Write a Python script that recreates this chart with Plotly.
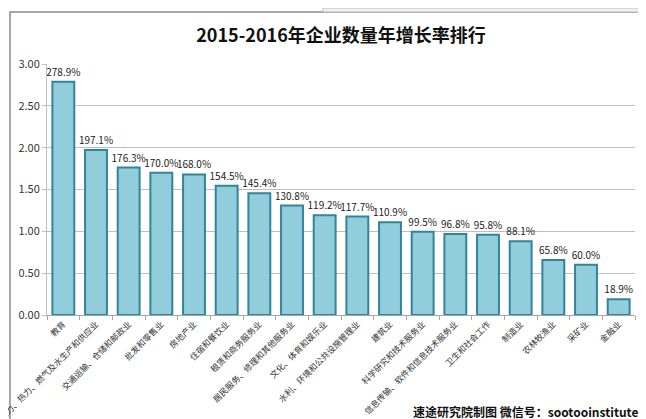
import plotly.graph_objects as go

categories = [
    "教育",
    "电力、热力、燃气及水生产和供应业",
    "交通运输、仓储和邮政业",
    "批发和零售业",
    "房地产业",
    "住宿和餐饮业",
    "租赁和商务服务业",
    "居民服务、修理和其他服务业",
    "文化、体育和娱乐业",
    "水利、环境和公共设施管理业",
    "建筑业",
    "科学研究和技术服务业",
    "信息传输、软件和信息技术服务业",
    "卫生和社会工作",
    "制造业",
    "农林牧渔业",
    "采矿业",
    "金融业",
]
values = [2.789, 1.971, 1.763, 1.700, 1.680, 1.545, 1.454, 1.308, 1.192,
          1.177, 1.109, 0.995, 0.968, 0.958, 0.881, 0.658, 0.600, 0.189]
labels = [f"{v*100:.1f}%" for v in values]
ytick_vals = [0, 0.5, 1.0, 1.5, 2.0, 2.5, 3.0]
ytick_text = [f"{v:.2f}" for v in ytick_vals]

W, H = 646, 419
ML, MR, MT, MB = 39, 19, 56, 112
PW, PH = W - ML - MR, H - MT - MB

def px_x(p):
    return (p - ML) / PW

def px_y(p):
    return (H - MB - p) / PH

font = "Noto Sans CJK SC"

fig = go.Figure(go.Bar(
    x=categories, y=values, text=labels, textposition="outside",
    cliponaxis=False, constraintext="none",
    textfont=dict(family=font, size=10, color="#222222"),
    marker=dict(color="#92CDDC", line=dict(color="#31849B", width=2)),
))

fig.update_layout(
    width=W, height=H,
    margin=dict(l=ML, r=MR, t=MT, b=MB, autoexpand=False),
    paper_bgcolor="white", plot_bgcolor="white",
    bargap=0.33,
    showlegend=False,
    font=dict(family=font, color="#222222"),
    title=dict(text="<b>2015-2016年企业数量年增长率排行</b>", x=0.5, xref="paper",
               y=1 - 28 / H, yanchor="middle", xanchor="center",
               font=dict(family=font, size=18, color="#111111")),
    xaxis=dict(tickangle=-45, tickfont=dict(family=font, size=8.5, color="#333333"),
               showline=True, linecolor="#a6a6a6", ticks="outside", ticklen=4,
               tickcolor="#a6a6a6", tickson="boundaries", automargin=False),
    yaxis=dict(range=[0, 3.0], tickvals=ytick_vals, ticktext=ytick_text,
               tickfont=dict(family=font, size=11, color="#333333"),
               showgrid=True, gridcolor="#bfbfbf", gridwidth=1,
               showline=True, linecolor="#bfbfbf", ticks="outside", ticklen=4,
               tickcolor="#bfbfbf", zeroline=False, automargin=False),
    shapes=[
        dict(type="rect", xref="paper", yref="paper",
             x0=px_x(2), x1=px_x(641), y0=px_y(416), y1=px_y(4),
             line=dict(color="#8c8c8c", width=1.5), layer="below"),
        dict(type="rect", xref="paper", yref="paper",
             x0=px_x(315), x1=px_x(646), y0=px_y(4), y1=px_y(0),
             line=dict(color="#bbbbbb", width=1), fillcolor="#f0f0f0", layer="below"),
    ],
    annotations=[
        dict(text="<b>速途研究院制图 微信号：sootooinstitute</b>", xref="paper", yref="paper",
             x=px_x(632), y=px_y(403), xanchor="right", yanchor="middle", showarrow=False,
             font=dict(family=font, size=12, color="#111111")),
    ],
)

fig.write_html("out.html")
